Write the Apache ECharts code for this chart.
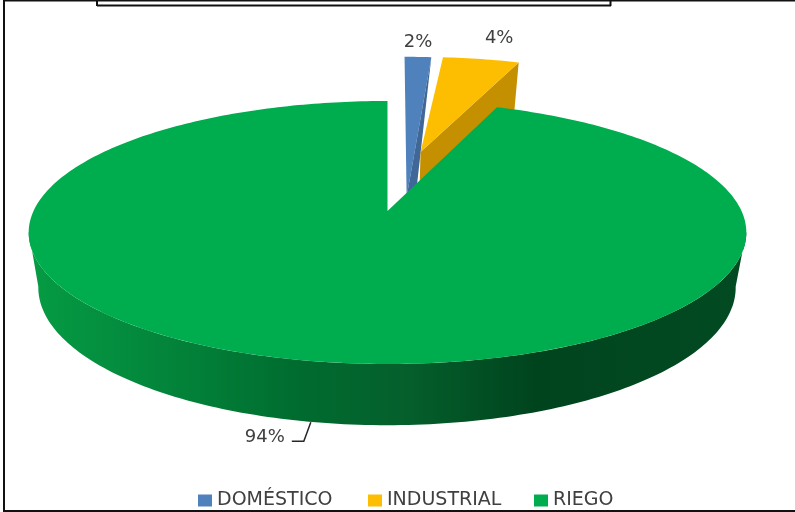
<!DOCTYPE html>
<html>
<head>
<meta charset="utf-8">
<style>html,body{margin:0;padding:0;background:#fff}#c{width:795px;height:512px}</style>
<script src="https://cdn.jsdelivr.net/npm/echarts@6/dist/echarts.min.js"></script>
</head>
<body>
<div id="c"></div>
<script>
const categories = ['DOMÉSTICO', 'INDUSTRIAL', 'RIEGO'];
const values = [1.5, 4.3, 94.2];
const colors = ['#4f81bd', '#fdbd00', '#00ad4e'];
const wallColors = ['#3f6797', '#c49000'];
const legendLefts = [193, 363, 529];

const topPlane = {x0: 387.5, y0: 211, f: 354, g: 128, k: 0.1635};
const basePlane = {x0: 387, y0: 265, f: 344, g: 134, k: 0.1635};
const offsets = [[0.06, 0.5], [0.101, 0.4985], [0, 0]];
const apexes = [[0.055, 0.111], [0.101, 0.4985], [0, 0]];
const labelAnchors = [[0, -15], [18, -21], [0, 0]];
const FONT = '18px "DejaVu Sans"';

function proj(X, Y, p) {
  const w = 1 + p.k * Y;
  return [p.x0 + p.f * X / w, p.y0 - p.g * Y / w];
}
const total = values.reduce((a, b) => a + b, 0);
const starts = [];
values.reduce((acc, v, i) => { starts[i] = acc; return acc + v; }, 0);
const toDeg = v => v / total * 360;

function rim(offset, deg, p) {
  const r = deg * Math.PI / 180;
  return proj(offset[0] + Math.sin(r), offset[1] + Math.cos(r), p);
}
function arc(offset, a, b, p) {
  const pts = [];
  const n = Math.max(2, Math.ceil(Math.abs(b - a)));
  for (let i = 0; i <= n; i++) pts.push(rim(offset, a + (b - a) * i / n, p));
  return pts;
}
function poly(points, fill) {
  return {type: 'polygon', shape: {points}, style: {fill}};
}
function text(str, x, y) {
  return {type: 'text', style: {text: str, x, y, font: FONT, fill: '#404040', align: 'center', verticalAlign: 'middle'}};
}

function drawSlice(i) {
  const a = toDeg(starts[i]), b = toDeg(starts[i] + values[i]);
  const off = offsets[i], apex = proj(apexes[i][0], apexes[i][1], topPlane);
  const label = Math.round(values[i] / total * 100) + '%';
  const children = [];
  if (i === 0) {
    const tip = rim(off, b, topPlane);
    children.push(poly(arc(off, a, b, topPlane).concat([apex]), colors[0]));
    children.push(poly([tip, apex, [apex[0] + 9, apex[1]]], wallColors[0]));
  } else if (i === 1) {
    const tip = rim(off, b, topPlane), tipB = rim(off, b, basePlane);
    const apexB = proj(apexes[i][0], apexes[i][1], basePlane);
    children.push(poly([apex, tip, tipB, apexB], wallColors[1]));
    children.push(poly(arc(off, a, b, topPlane).concat([apex]), colors[1]));
  } else {
    const wallTop = arc(off, 99, 261, topPlane);
    const wallBase = arc(off, 99, 261, basePlane).reverse();
    const grad = new echarts.graphic.LinearGradient(37, 0, 737, 0, [
      {offset: 0, color: '#059a43'},
      {offset: 0.09, color: '#04903f'},
      {offset: 0.23, color: '#027f38'},
      {offset: 0.38, color: '#006b2f'},
      {offset: 0.52, color: '#05602c'},
      {offset: 0.71, color: '#00441e'},
      {offset: 1, color: '#024a22'}
    ], true);
    children.push(poly(wallTop.concat(wallBase), grad));
    children.push(poly(arc(off, a, b, topPlane).concat([apex]), colors[2]));
    const foot = rim(off, 190, basePlane);
    children.push({type: 'polyline', shape: {points: [[foot[0] - 5, foot[1]], [foot[0] - 12, foot[1] + 19], [foot[0] - 24, foot[1] + 19]]},
      style: {stroke: '#262626', lineWidth: 1.5, fill: null}});
    children.push(text(label, foot[0] - 51, foot[1] + 15));
    return {type: 'group', children};
  }
  const mid = rim(off, (a + b) / 2, topPlane);
  children.push(text(label, mid[0] + labelAnchors[i][0], mid[1] + labelAnchors[i][1]));
  return {type: 'group', children};
}

const frame = [
  [[4, 0.5], [795, 0.5]],
  [[4, 0], [4, 512]],
  [[4, 511], [795, 511]],
  [[97, 0], [97, 6]],
  [[97, 5.5], [611, 5.5]],
  [[610.5, 0], [610.5, 6]]
];

const chart = echarts.init(document.getElementById('c'), null, {renderer: 'canvas'});
chart.setOption({
  animation: false,
  backgroundColor: '#fff',
  legend: categories.map((name, i) => ({
    data: [name], left: legendLefts[i], top: 486, icon: 'rect', itemWidth: 14, itemHeight: 12,
    selectedMode: false,
    textStyle: {color: '#404040', fontFamily: 'DejaVu Sans', fontSize: 19}
  })),
  graphic: frame.map(([a, b]) => ({type: 'line', shape: {x1: a[0], y1: a[1], x2: b[0], y2: b[1]},
    style: {stroke: '#111', lineWidth: 2}, silent: true})),
  series: categories.map((name, i) => ({
    type: 'custom', name, coordinateSystem: 'none', silent: true, z: 2 + i,
    itemStyle: {color: colors[i]},
    data: [values[i]],
    renderItem: () => drawSlice(i)
  }))
});
</script>
</body>
</html>
